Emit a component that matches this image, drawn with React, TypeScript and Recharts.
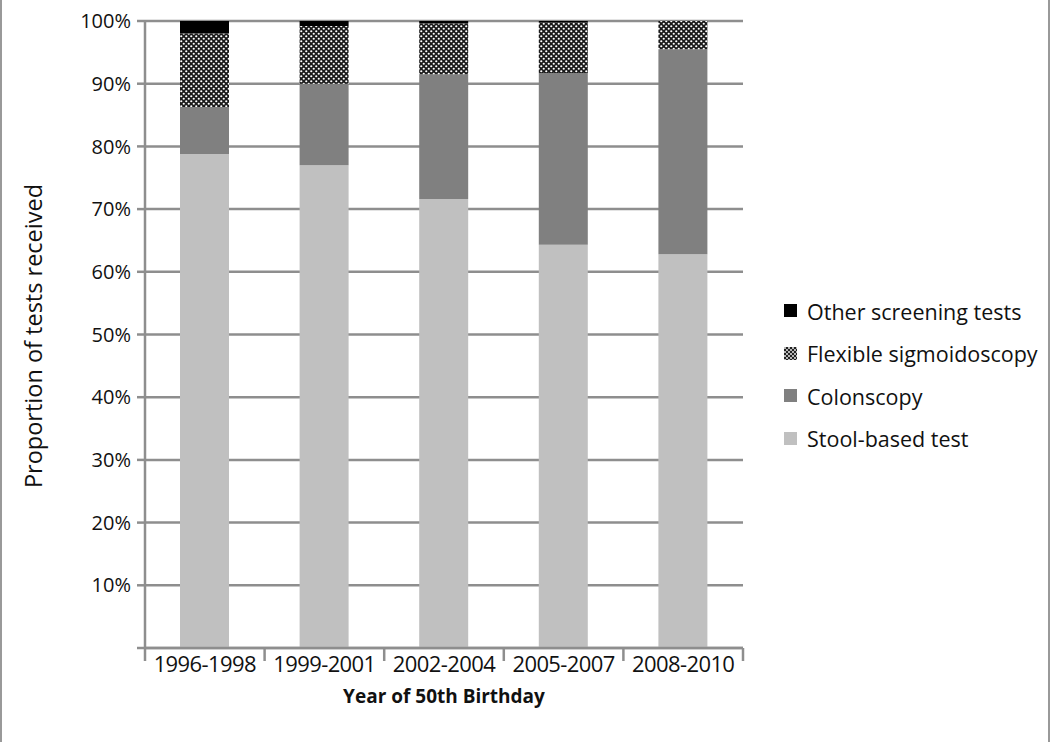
import { BarChart, Bar, XAxis, YAxis, CartesianGrid, Legend } from "recharts";

const periods = ["1996-1998", "1999-2001", "2002-2004", "2005-2007", "2008-2010"];
const stool = [78.8, 77.0, 71.6, 64.3, 62.8];
const colonoscopy = [7.5, 13.0, 19.9, 27.4, 32.7];
const sigmoidoscopy = [11.7, 9.2, 8.1, 8.1, 4.5];
const other = [2.0, 0.8, 0.4, 0.2, 0.0];
const yTicks = [0, 10, 20, 30, 40, 50, 60, 70, 80, 90, 100];

const data = periods.map((p, i) => ({
  period: p,
  stool: stool[i],
  colonoscopy: colonoscopy[i],
  sigmoidoscopy: sigmoidoscopy[i],
  other: other[i],
}));

const FONT = "'Open Sans', 'DejaVu Sans', sans-serif";
const GRID = "#8e8e8e";
const W = 1050;
const H = 742;
const LEFT = 145;
const RIGHT = 743;
const STEP = (RIGHT - LEFT) / periods.length;

function XTick(props: any) {
  const { x, y, payload, index } = props;
  return (
    <g>
      <line x1={x - STEP / 2} x2={x - STEP / 2} y1={y} y2={y + 13} stroke={GRID} strokeWidth={2.5} />
      {index === periods.length - 1 && (
        <line x1={x + STEP / 2} x2={x + STEP / 2} y1={y} y2={y + 13} stroke={GRID} strokeWidth={2.5} />
      )}
      <text x={x} y={y + 24} textAnchor="middle" fontSize={22} fill="#111" fontFamily={FONT} letterSpacing={-0.6}>
        {payload.value}
      </text>
    </g>
  );
}

const legendItems = [
  { label: "Other screening tests", fill: "#000" },
  { label: "Flexible sigmoidoscopy", fill: "dots" },
  { label: "Colonscopy", fill: "#808080" },
  { label: "Stool-based test", fill: "#c0c0c0" },
];

function LegendBox() {
  return (
    <div style={{ fontFamily: FONT, fontSize: 21.5, color: "#111" }}>
      {legendItems.map((it, i) => (
        <div key={it.label} style={{ display: "flex", alignItems: "center", height: 42.5 }}>
          <svg width={14} height={14} style={{ marginRight: 9 }}>
            <defs>
              <pattern id={"ld" + i} width={4} height={4} patternUnits="userSpaceOnUse">
                <rect width={4} height={4} fill="#222" />
                <circle cx={1} cy={1} r={0.9} fill="#fff" />
                <circle cx={3} cy={3} r={0.9} fill="#fff" />
              </pattern>
            </defs>
            <rect x={0} y={0} width={13} height={13} fill={it.fill === "dots" ? `url(#ld${i})` : it.fill} />
          </svg>
          <span>{it.label}</span>
        </div>
      ))}
    </div>
  );
}

export default function App() {
  return (
    <div
      style={{
        position: "absolute",
        left: 0,
        top: 0,
        width: W,
        height: H,
        background: "#fff",
        boxSizing: "border-box",
        borderLeft: "2px solid #999",
        borderRight: "2px solid #999",
      }}
    >
      <div style={{ position: "absolute", left: -2, top: 0 }}>
        <BarChart
          width={W}
          height={H}
          data={data}
          margin={{ top: 21, right: W - RIGHT, bottom: 34, left: 0 }}
          barSize={49}
        >
          <defs>
            <pattern id="dots" width={5} height={5} patternUnits="userSpaceOnUse">
              <rect width={5} height={5} fill="#1a1a1a" />
              <ellipse cx={1.25} cy={1.25} rx={1.1} ry={0.9} fill="#fff" />
              <ellipse cx={3.75} cy={3.75} rx={1.1} ry={0.9} fill="#fff" />
            </pattern>
          </defs>
          <CartesianGrid vertical={false} stroke={GRID} strokeWidth={2.5} />
          <XAxis
            dataKey="period"
            height={60}
            tickLine={false}
            tickSize={0}
            tickMargin={0}
            axisLine={{ stroke: GRID, strokeWidth: 2.5 }}
            tick={<XTick />}
            interval={0}
            label={{
              value: "Year of 50th Birthday",
              position: "insideBottom",
              offset: 5,
              style: { fontFamily: FONT, fontSize: 19, fontWeight: 700, fill: "#111" },
            }}
          />
          <YAxis
            width={LEFT}
            domain={[0, 100]}
            ticks={yTicks}
            interval={0}
            tickSize={8}
            tickMargin={6}
            tickFormatter={(v: number) => (v === 0 ? "" : `${v}%`)}
            tick={{ fontFamily: FONT, fontSize: 20, fill: "#111" }}
            tickLine={{ stroke: GRID, strokeWidth: 2.5 }}
            axisLine={{ stroke: GRID, strokeWidth: 2.5 }}
            label={{
              content: () => (
                <text
                  transform="translate(42 336) rotate(-90)"
                  textAnchor="middle"
                  fontFamily={FONT}
                  fontSize={23.5}
                  fill="#111"
                >
                  Proportion of tests received
                </text>
              ),
            }}
          />
          <Legend
            layout="horizontal"
            verticalAlign="middle"
            align="center"
            content={<LegendBox />}
            wrapperStyle={{ left: 784, top: 290, width: 262 }}
          />
          <Bar dataKey="stool" stackId="a" fill="#c0c0c0" isAnimationActive={false} />
          <Bar dataKey="colonoscopy" stackId="a" fill="#808080" isAnimationActive={false} />
          <Bar dataKey="sigmoidoscopy" stackId="a" fill="url(#dots)" isAnimationActive={false} />
          <Bar dataKey="other" stackId="a" fill="#000" isAnimationActive={false} />
        </BarChart>
      </div>
    </div>
  );
}
